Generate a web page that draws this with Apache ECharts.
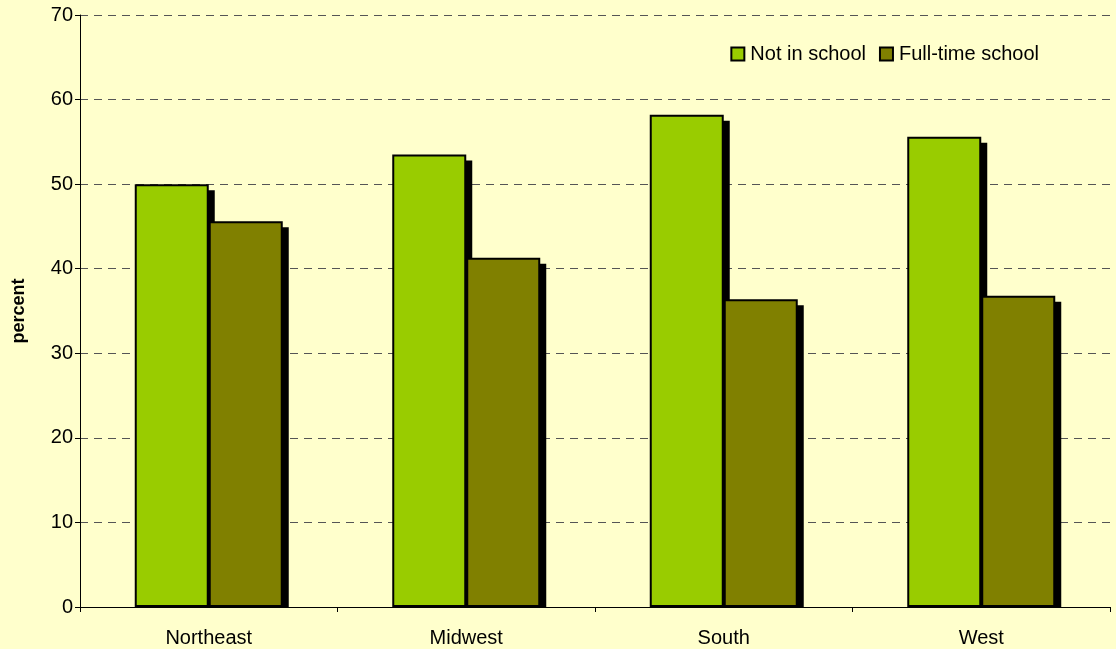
<!DOCTYPE html>
<html>
<head>
<meta charset="utf-8">
<script src="https://cdn.jsdelivr.net/npm/echarts@6/dist/echarts.min.js"></script>
<style>
  html, body { margin: 0; padding: 0; background: #FFFFCC; }
  #chart { width: 1116px; height: 649px; }
</style>
</head>
<body>
<div id="chart"></div>
<script>
var regions = ['Northeast', 'Midwest', 'South', 'West'];
var notInSchool = [50.0, 53.5, 58.2, 55.6];
var fullTimeSchool = [45.6, 41.3, 36.4, 36.8];
var seriesNames = ['Not in school', 'Full-time school'];

var BAR_W = 74;
var SHADOW = 6;

// shadow rects drawn under the bars, clipped at the axis
var shadowData = [];
regions.forEach(function (r, i) {
  shadowData.push([i, notInSchool[i], 0]);
  shadowData.push([i, fullTimeSchool[i], 1]);
});

var myChart = echarts.init(document.getElementById('chart'));
var option = {
  backgroundColor: '#FFFFCC',
  textStyle: { fontFamily: 'Liberation Sans, Arial, sans-serif' },
  grid: { left: 80, right: 6, top: 15, bottom: 42 },
  legend: {
    data: seriesNames,
    right: 72,
    top: 39,
    itemWidth: 13,
    itemHeight: 13,
    itemGap: 13,
    icon: 'rect',
    itemStyle: { borderColor: '#000', borderWidth: 2 },
    textStyle: { fontSize: 20, color: '#000', padding: [0, 0, 0, 1] }
  },
  xAxis: {
    type: 'category',
    data: regions,
    axisLine: { lineStyle: { color: '#000' } },
    axisTick: { show: true, length: 5, lineStyle: { color: '#000' } },
    axisLabel: { fontSize: 20, color: '#000', margin: 21 }
  },
  yAxis: {
    type: 'value',
    min: 0,
    max: 70,
    interval: 10,
    name: 'percent',
    nameLocation: 'middle',
    nameGap: 52,
    nameTextStyle: { fontSize: 18, fontWeight: 'bold', color: '#000' },
    axisLine: { show: true, lineStyle: { color: '#000' } },
    axisTick: { show: true, length: 5, lineStyle: { color: '#000' } },
    axisLabel: { fontSize: 20, color: '#000', margin: 7 },
    splitLine: { lineStyle: { color: '#555', type: [8, 6], width: 1 } }
  },
  series: [
    {
      type: 'custom',
      name: 'shadow',
      z: 1,
      silent: true,
      data: shadowData,
      renderItem: function (params, api) {
        var cat = api.value(0);
        var val = api.value(1);
        var idx = api.value(2);
        var top = api.coord([cat, val]);
        var base = api.coord([cat, 0]);
        var x0 = top[0] - BAR_W + idx * BAR_W + SHADOW;
        return {
          type: 'rect',
          shape: { x: x0, y: top[1] + SHADOW, width: BAR_W, height: base[1] - top[1] - SHADOW },
          style: { fill: '#000' }
        };
      }
    },
    {
      name: seriesNames[0],
      type: 'bar',
      z: 2,
      barWidth: BAR_W,
      barGap: '0%',
      data: notInSchool,
      itemStyle: { color: '#99CC00', borderColor: '#000', borderWidth: 2 }
    },
    {
      name: seriesNames[1],
      type: 'bar',
      z: 2,
      barWidth: BAR_W,
      barGap: '0%',
      data: fullTimeSchool,
      itemStyle: { color: '#808000', borderColor: '#000', borderWidth: 2 }
    }
  ]
};
myChart.setOption(option);
</script>
</body>
</html>
